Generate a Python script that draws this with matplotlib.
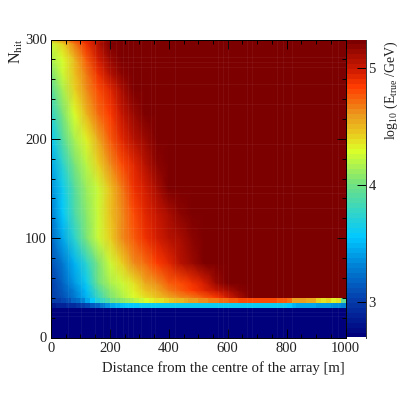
import matplotlib
matplotlib.use("Agg")
import matplotlib.pyplot as plt
import numpy as np
from matplotlib.colors import LinearSegmentedColormap, Normalize
from matplotlib.cm import ScalarMappable

plt.rcParams['font.family'] = ['Liberation Serif', 'DejaVu Serif']
plt.rcParams['mathtext.fontset'] = 'custom'
plt.rcParams['mathtext.rm'] = 'Liberation Serif'
plt.rcParams['mathtext.it'] = 'Liberation Serif'
plt.rcParams['mathtext.default'] = 'regular'

# log10(E), columns every 40 m, anything not listed is saturated
x_nodes = [0, 40, 80, 120, 160, 200, 240, 280, 320, 360, 400, 440, 480, 520, 560, 600, 640, 680, 720, 760, 1000]
saturated = 5.3
nhit_nodes = [40, 47.5, 55, 75, 100, 125, 150, 175, 200, 225, 250, 265, 280, 296, 300]
row_40 = [3.0, 3.12, 3.28, 3.48, 3.8, 4.05, 4.17, 4.29, 4.38, 4.47, 4.55, 4.62, 4.68, 4.76, 4.85, 4.97, 5.1, 5.22]
row_47 = [3.0, 3.14, 3.3, 3.52, 3.87, 4.07, 4.2, 4.33, 4.45, 4.56, 4.66, 4.76, 4.85, 4.93, 5.01, 5.1, 5.18, 5.25]
row_55 = [3.02, 3.18, 3.38, 3.6, 4.0, 4.14, 4.26, 4.38, 4.53, 4.64, 4.74, 4.8, 4.87, 4.98, 5.12, 5.22]
row_75 = [3.1, 3.28, 3.47, 3.73, 4.03, 4.23, 4.42, 4.61, 4.72, 4.83, 4.93, 5.03, 5.12, 5.2, 5.27]
row_100 = [3.2, 3.44, 3.75, 4.05, 4.23, 4.42, 4.61, 4.75, 4.88, 4.95, 5.03, 5.11, 5.18, 5.26]
row_125 = [3.28, 3.55, 3.85, 4.08, 4.25, 4.45, 4.64, 4.8, 4.92, 5.01, 5.1, 5.18, 5.25]
row_150 = [3.35, 3.63, 3.9, 4.1, 4.26, 4.47, 4.68, 4.86, 4.98, 5.1, 5.2, 5.28]
row_175 = [3.45, 3.72, 4.02, 4.2, 4.41, 4.63, 4.81, 4.94, 5.07, 5.18, 5.27]
row_200 = [3.55, 3.9, 4.14, 4.33, 4.55, 4.74, 4.91, 5.03, 5.15, 5.25]
row_225 = [3.72, 4.05, 4.27, 4.49, 4.69, 4.85, 4.99, 5.13, 5.24]
row_250 = [3.9, 4.17, 4.41, 4.63, 4.78, 4.93, 5.08, 5.2, 5.28]
row_265 = [4.02, 4.25, 4.46, 4.68, 4.87, 5.03, 5.18, 5.28]
row_280 = [4.15, 4.3, 4.5, 4.75, 4.95, 5.13, 5.25]
row_296 = [4.25, 4.42, 4.68, 4.88, 5.05, 5.2]
row_300 = [4.55, 4.68, 4.82, 4.92, 5.02, 5.12, 5.25]
upper_rows = [row_40, row_47, row_55, row_75, row_100, row_125, row_150, row_175,
              row_200, row_225, row_250, row_265, row_280, row_296, row_300]

# the sharp band at the threshold, 60 bins of 1000/60 m
band_30_35 = [2.85, 2.87, 2.89, 2.92, 2.95, 2.99, 3.03, 3.08, 3.14, 3.2, 3.27, 3.34, 3.42, 3.48, 3.52,
              3.55, 3.57, 3.58, 3.59, 3.6, 3.6, 3.6, 3.6, 3.6, 3.6, 3.6, 3.6, 3.6, 3.6, 3.6,
              3.6, 3.6, 3.6, 3.6, 3.6, 3.6, 3.6, 3.6, 3.6, 3.6, 3.6, 3.6, 3.6, 3.6, 3.6,
              3.6, 3.6, 3.6, 3.55, 3.5, 3.46, 3.44, 3.42, 3.42, 3.4, 3.38, 3.38, 3.36, 3.34, 3.32]
band_35_40 = [3.0, 3.03, 3.07, 3.12, 3.18, 3.25, 3.33, 3.45, 3.58, 3.68, 3.78, 3.88, 3.97, 4.03, 4.08,
              4.13, 4.18, 4.22, 4.26, 4.3, 4.33, 4.36, 4.39, 4.42, 4.45, 4.48, 4.51, 4.54, 4.57, 4.6,
              4.62, 4.64, 4.66, 4.68, 4.7, 4.72, 4.74, 4.76, 4.78, 4.78, 4.79, 4.8, 4.8, 4.8, 4.78,
              4.78, 4.77, 4.76, 4.72, 4.6, 4.58, 4.57, 4.55, 4.55, 4.42, 4.36, 4.42, 4.33, 4.38, 3.95]
floor_value = 2.72

# faint seams visible in the flat regions
seam_x = [58, 102, 149, 176, 200, 220, 245, 261, 278, 306, 340, 353, 421, 567, 584, 601, 665, 683, 767, 788, 818, 954, 975]
seam_y = [22, 26, 110, 130, 145, 153, 195, 235, 255, 272, 277, 282]

cmap_levels = [2.7, 3.0, 3.3, 3.55, 3.8, 4.0, 4.3, 4.45, 4.6, 4.85, 5.0, 5.24]
cmap_colors = ['#00007d', '#053caa', '#0082d7', '#00c8ff', '#3cd7be', '#6ee182',
               '#dcff28', '#ebc81e', '#eb9b1e', '#ff3c00', '#cd1900', '#7d0000']
vmin, vmax = cmap_levels[0], cmap_levels[-1]
stops = [(v - vmin) / (vmax - vmin) for v in cmap_levels]
cmap = LinearSegmentedColormap.from_list('energy', list(zip(stops, cmap_colors)), N=60)
norm = Normalize(vmin, vmax)

fig = plt.figure(figsize=(4.11, 3.97), dpi=100)
W, H = 411.0, 397.0
ax = fig.add_axes([51 / W, 1 - 337.5 / H, 294.5 / W, 298 / H])
cax = fig.add_axes([347 / W, 1 - 337.5 / H, 18.5 / W, 298 / H])

grid = np.array([r + [saturated] * (len(x_nodes) - len(r)) for r in upper_rows])
ax.pcolormesh(x_nodes, nhit_nodes, grid, cmap=cmap, norm=norm, shading='gouraud', rasterized=True)

x_edges = np.linspace(0, 1000, 61)
ax.pcolormesh(x_edges, [30, 35, 40], np.array([band_30_35, band_35_40]), cmap=cmap, norm=norm, shading='flat')
ax.pcolormesh([0, 1000], [0, 30], [[floor_value]], cmap=cmap, norm=norm, shading='flat')

for x in seam_x:
    ax.axvline(x, color='white', alpha=0.05, lw=0.7)
for y in seam_y:
    ax.axhline(y, color='white', alpha=0.05, lw=0.7)

ax.set_xlim(0, 1000)
ax.set_ylim(0, 300)
ax.set_xticks([0, 200, 400, 600, 800, 1000])
ax.set_yticks([0, 100, 200, 300])
ax.set_xticks(np.arange(0, 1001, 50), minor=True)
ax.set_yticks(np.arange(0, 301, 20), minor=True)
ax.tick_params(which='major', direction='in', length=6.5, width=0.7, top=True, right=True, labelsize=10.5, pad=3,
               labelcolor='#222222')
ax.tick_params(which='minor', direction='in', length=3, width=0.7, top=True, right=True)
for s in ax.spines.values():
    s.set_linewidth(0.7)

fig.text(345 / W, 1 - 368 / H, 'Distance from the centre of the array [m]', ha='right', va='center',
         fontsize=10.6, color='#222222')
fig.text(16 / W, 1 - 39 / H, r'N$_{hit}$', rotation=90, ha='center', va='top', fontsize=11.5, color='#222222')
fig.text(391 / W, 1 - 40 / H, r'log$_{10}$ (E$_{true}$ /GeV)', rotation=90, ha='center', va='top',
         fontsize=10, color='#222222')

cb = fig.colorbar(ScalarMappable(norm=norm, cmap=cmap), cax=cax)
cb.set_ticks([3, 4, 5])
cb.ax.tick_params(direction='in', length=6.5, width=0.7, labelsize=10.5, pad=2, labelcolor='#222222')
cb.ax.minorticks_off()
cb.outline.set_visible(False)
cax.plot([1, 1], [0, 1], transform=cax.transAxes, color='#333333', lw=0.7, clip_on=False)

fig.savefig('out.png', dpi=100)
